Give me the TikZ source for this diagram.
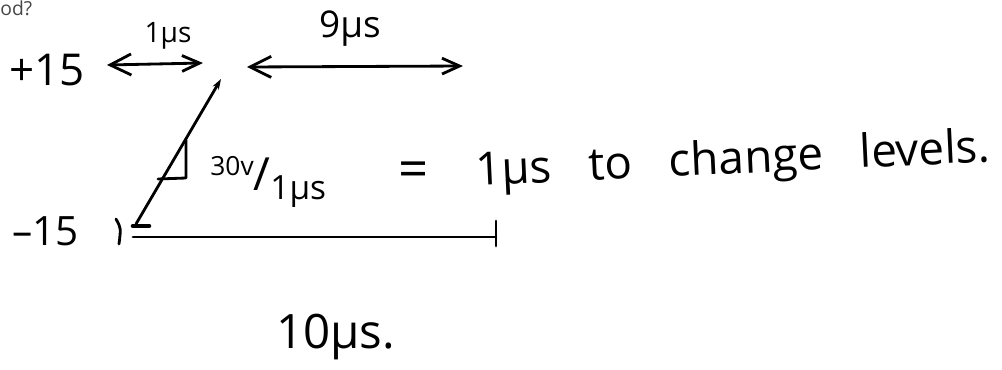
\documentclass[tikz,border=0pt]{standalone}
\usepackage{fontspec}
\setmainfont{Open Sans}
\usetikzlibrary{arrows.meta,calc}
\begin{document}
\begin{tikzpicture}[x=0.02cm,y=-0.02cm,
  ink/.style={line width=1.6pt, line cap=round, line join=round, draw=black},
  dbl/.style={ink, {Straight Barb[length=12pt,width=12pt]}-{Straight Barb[length=10pt,width=9pt]}},
  hand/.style={inner sep=0pt, text=black},
  fsz/.style={font=\fontsize{#1}{#1}\selectfont}]
\useasboundingbox (0,0) rectangle (1002,369);
\fill[white] (0,0) rectangle (1002,369);

% header text fragment
\node[hand, anchor=base west, text=black!72, fsz=11] (hdr) at (0,15) {od?};

% level labels
\node[hand, anchor=base west, fsz=25] (plus) at (9,85) {+15};
\node[hand, anchor=base west, fsz=23] (minus) at (12,245) {--15};

% time labels
\node[hand, anchor=base, fsz=16] (t1) at (168,42) {1µs};
\node[hand, anchor=base, fsz=21] (t9) at (350,37) {9µs};

% double arrows
\coordinate (a1l) at (107,65);
\coordinate (a1r) at (203,63);
\coordinate (a9l) at (247,67);
\coordinate (a9r) at (463,66);
\draw[dbl] (a1l) -- (a1r);
\draw[dbl] (a9l) -- (a9r);

% rising edge
\coordinate (r0) at (136,224);
\coordinate (r1) at (221,79);
\draw[ink, -{Stealth[length=6pt,width=4pt]}] (r0) -- (r1);

% slope triangle
\coordinate (s0) at (186,140);
\coordinate (s1) at (186,178);
\coordinate (s2) at (158,179);
\draw[ink] (s0) -- (s1) -- (s2);

% small mark at foot and tick
\coordinate (d0) at (133,226);
\coordinate (d1) at (149,226);
\draw[ink, line width=2.6pt] (d0) -- (d1);
\coordinate (k0) at (116,219);
\coordinate (k1) at (119,244);
\draw[ink] (k0) .. controls (121,228) .. (k1);

% bottom period line
\coordinate (b0) at (133,237);
\coordinate (b1) at (496,237);
\coordinate (e0) at (496,221);
\coordinate (e1) at (496,246);
\draw[ink] (b0) -- (b1);
\draw[ink] (e0) -- (e1);

% slope label
\node[hand, anchor=base west] (slope) at (210,190)
  {\raisebox{8pt}{\fontsize{15}{15}\selectfont 30v}\fontsize{26}{26}\selectfont/\raisebox{-5.5pt}{\fontsize{19}{19}\selectfont 1µs}};

\node[hand, fsz=30] (eq) at (414,175) {=};

\node[hand, anchor=base west, fsz=26, rotate=2.7] (msg) at (476,186)
  {1µs\hspace{0.55em} to\hspace{0.55em} change\hspace{0.55em} levels.};

\node[hand, anchor=base west, fsz=27] (total) at (276,348) {10µs.};
\end{tikzpicture}
\end{document}
